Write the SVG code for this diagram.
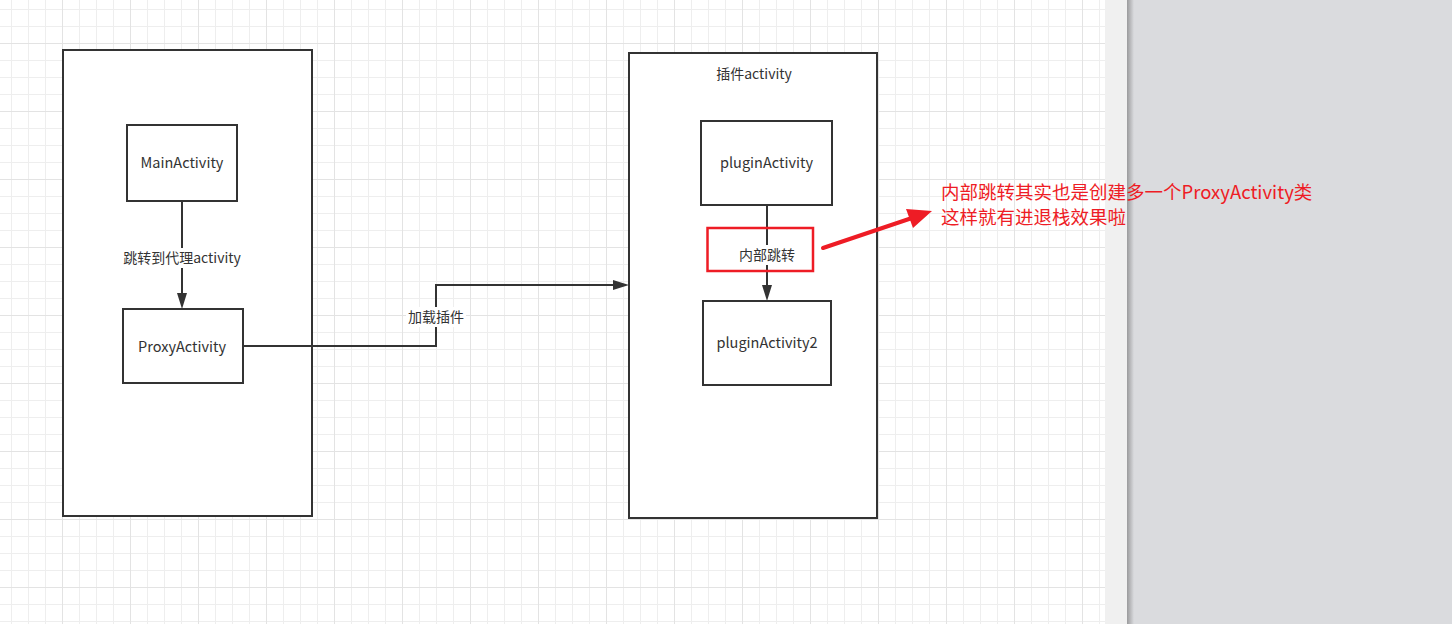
<svg xmlns="http://www.w3.org/2000/svg" width="1452" height="624" viewBox="0 0 1452 624">
  <style>
    .box { fill: #ffffff; stroke: #333333; stroke-width: 2; }
    .txt { font-family: "Noto Sans CJK SC", "Open Sans", sans-serif; font-size: 14.5px; fill: #333333; text-anchor: middle; }
    .lbltxt { font-family: "Noto Sans CJK SC", "Open Sans", sans-serif; font-size: 14px; fill: #333333; text-anchor: middle; }
    .edge { fill: none; stroke: #333333; stroke-width: 2; }
    .lbl { fill: #ffffff; }
    .note { font-family: "Noto Sans CJK SC", sans-serif; font-size: 18.5px; fill: #ee1c25; }
  </style>
  <defs>
    <pattern id="grid" patternUnits="userSpaceOnUse" x="11" y="9" width="68" height="68">
      <g shape-rendering="crispEdges" stroke-width="1">
        <path d="M0.5 0V68M17.5 0V68M34.5 0V68M0 0.5H68M0 17.5H68M0 51.5H68" stroke="#eeeeee"/>
        <path d="M51.5 0V68M0 34.5H68" stroke="#e3e3e3"/>
      </g>
    </pattern>
    <linearGradient id="shadow" x1="0" y1="0" x2="1" y2="0">
      <stop offset="0" stop-color="#9a9a9c"/>
      <stop offset="1" stop-color="#dadbde"/>
    </linearGradient>
  </defs>

  <!-- canvas background -->
  <rect x="0" y="0" width="1105" height="624" fill="#ffffff"/>
  <rect x="0" y="0" width="1105" height="624" fill="url(#grid)"/>
  <rect x="1105" y="0" width="22" height="624" fill="#f0f0f0"/>
  <rect x="1127" y="0" width="325" height="624" fill="#dadbde"/>
  <rect x="1127" y="0" width="7" height="624" fill="url(#shadow)"/>

  <!-- containers -->
  <g id="left-container">
    <rect class="box" x="63" y="50" width="249" height="466"/>
  </g>
  <g id="plugin-container">
    <rect class="box" x="629" y="53" width="248" height="465"/>
    <text class="lbltxt" x="754" y="79">插件activity</text>
  </g>

  <!-- nodes -->
  <g id="main-activity">
    <rect class="box" x="127" y="125" width="110" height="76"/>
    <text class="txt" x="182" y="168">MainActivity</text>
  </g>
  <g id="proxy-activity">
    <rect class="box" x="123" y="309" width="120" height="74"/>
    <text class="txt" x="182" y="352">ProxyActivity</text>
  </g>
  <g id="plugin-activity">
    <rect class="box" x="701" y="121" width="131" height="84"/>
    <text class="txt" x="766.5" y="168">pluginActivity</text>
  </g>
  <g id="plugin-activity2">
    <rect class="box" x="703" y="301" width="128" height="84"/>
    <text class="txt" x="767" y="348">pluginActivity2</text>
  </g>

  <!-- connectors -->
  <g id="connectors">
    <path class="edge" d="M182 201V293" />
    <path d="M177 293L182 309L187 293Z" fill="#333333"/>
    <rect class="lbl" x="121" y="248" width="123" height="20"/>
    <text class="lbltxt" x="182" y="263">跳转到代理activity</text>

    <path class="edge" d="M243 346H436V285H614" />
    <path d="M613 280L629 285L613 290Z" fill="#333333"/>
    <rect class="lbl" x="406" y="307" width="60" height="20"/>
    <text class="lbltxt" x="436" y="322">加载插件</text>

    <path class="edge" d="M767 205V285" />
    <path d="M762 285L767 301L772 285Z" fill="#333333"/>
    <rect class="lbl" x="738" y="245" width="60" height="20"/>
    <text class="lbltxt" x="767" y="260">内部跳转</text>
  </g>

  <!-- annotation -->
  <g id="annotation">
    <rect x="707.5" y="228" width="105.5" height="43" fill="none" stroke="#ee1c25" stroke-width="2.5"/>
    <path d="M823 248L912 218" stroke="#ee1c25" stroke-width="4" fill="none" stroke-linecap="round"/>
    <path d="M932 211L913 228L906 209Z" fill="#ee1c25"/>
    <text class="note" x="941" y="199">内部跳转其实也是创建多一个ProxyActivity类</text>
    <text class="note" x="941" y="223.5">这样就有进退栈效果啦</text>
  </g>
</svg>
